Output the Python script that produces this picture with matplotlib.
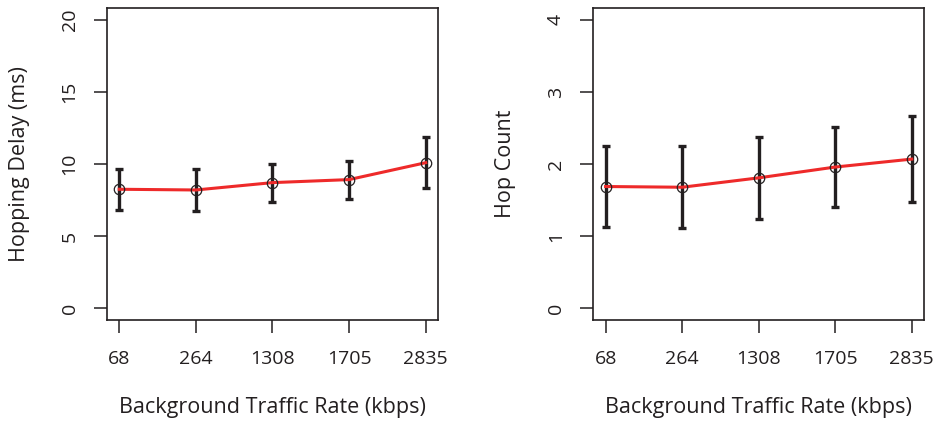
import numpy as np
import matplotlib as mpl
import matplotlib.pyplot as plt

mpl.rcParams['font.family'] = ['Open Sans', 'DejaVu Sans']

##data##
rates = ['68', '264', '1308', '1705', '2835']

delay_mean = [8.26, 8.21, 8.72, 8.93, 10.10]
delay_low = [6.85, 6.78, 7.40, 7.56, 8.33]
delay_high = [9.69, 9.67, 10.01, 10.24, 11.90]

hops_mean = [1.69, 1.68, 1.81, 1.96, 2.07]
hops_low = [1.125, 1.12, 1.236, 1.41, 1.47]
hops_high = [2.256, 2.25, 2.38, 2.51, 2.67]

xlabel = 'Background Traffic Rate (kbps)'
ink = '#231f20'

fig = plt.figure(figsize=(9.36, 4.24), dpi=100)
axes = [fig.add_axes([0.1143, 0.2453, 0.3536, 0.7351]),
        fig.add_axes([0.6339, 0.2453, 0.3533, 0.7351])]

panels = [
    (delay_mean, delay_low, delay_high, 'Hopping Delay (ms)', 20, [0, 5, 10, 15, 20]),
    (hops_mean, hops_low, hops_high, 'Hop Count', 4, [0, 1, 2, 3, 4]),
]

x = np.arange(1, len(rates) + 1)
for ax, (mean, low, high, ylab, ymax, yt) in zip(axes, panels):
    mean = np.array(mean)
    err = [mean - np.array(low), np.array(high) - mean]
    ax.errorbar(x, mean, yerr=err, fmt='none', ecolor=ink, elinewidth=2.4,
                capsize=3, capthick=2.4, zorder=2)
    ax.plot(x, mean, '-', color='#ee2a2a', lw=2.2, zorder=3)
    ax.plot(x, mean, 'o', mfc='none', mec=ink, ms=7.5, mew=0.9, zorder=4)

    ax.set_xlim(0.84, 5.16)
    ax.set_ylim(-0.04 * ymax, 1.04 * ymax)
    ax.set_xticks(x)
    ax.set_xticklabels(rates)
    ax.set_yticks(yt)
    ax.set_yticklabels([str(v) for v in yt])
    ax.tick_params(axis='both', direction='out', length=9.5, width=1.1,
                   colors=ink, labelsize=14)
    ax.tick_params(axis='x', pad=12)
    ax.tick_params(axis='y', pad=11, labelrotation=90)
    for lab in ax.get_yticklabels():
        lab.set_va('center')
    for sp in ax.spines.values():
        sp.set_linewidth(1.2)
        sp.set_color(ink)

    ax.set_xlabel(xlabel, fontsize=15.5, color=ink)
    ax.xaxis.set_label_coords(0.5, -0.282)
    ax.xaxis.label.set_va('center')
    ax.set_ylabel(ylab, fontsize=15.5, color=ink)
    ax.yaxis.label.set_va('center')

axes[0].yaxis.set_label_coords(-0.263, 0.5)
axes[1].yaxis.set_label_coords(-0.267, 0.5)

fig.savefig('out.png', dpi=100)
